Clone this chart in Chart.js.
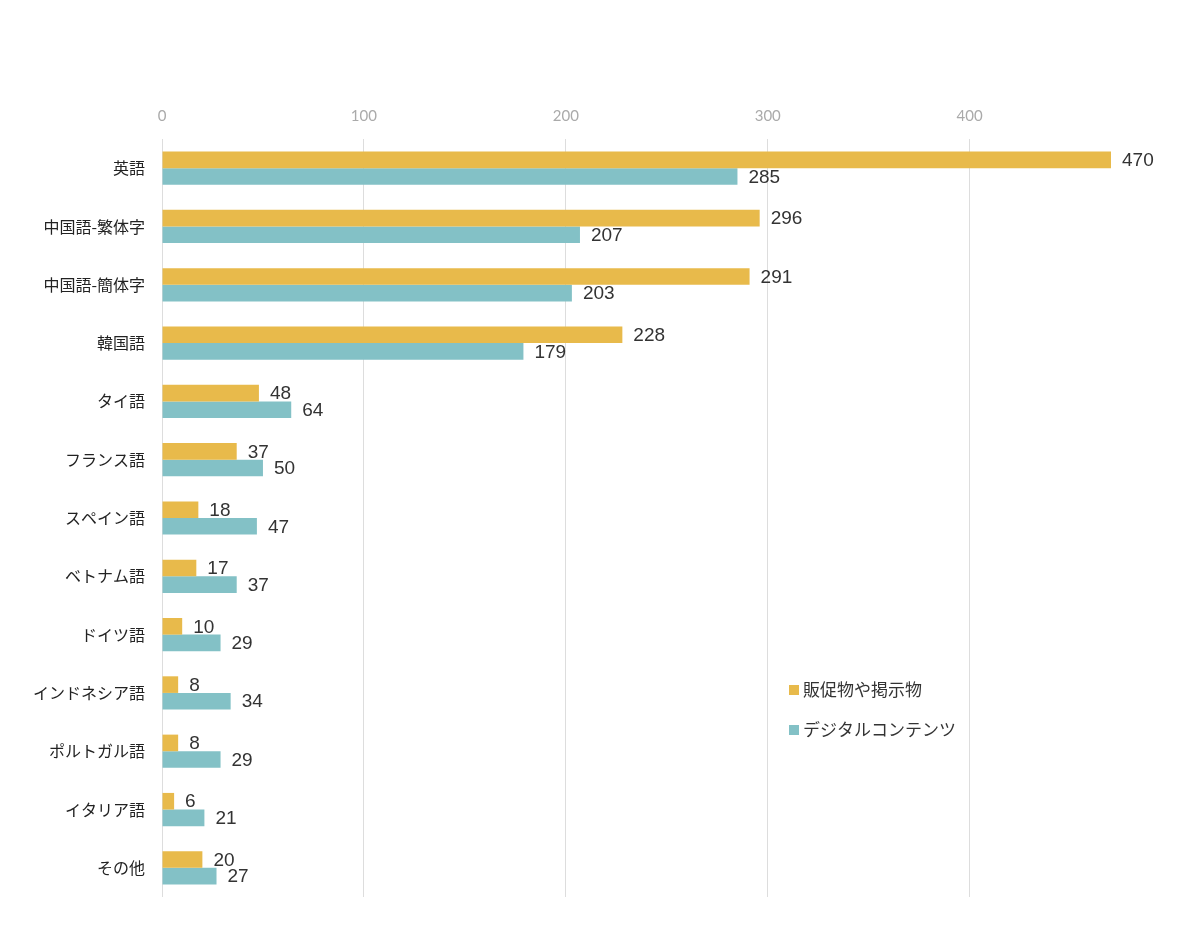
<!DOCTYPE html>
<html lang="ja">
<head>
<meta charset="utf-8">
<title>言語別</title>
<script src="https://cdn.jsdelivr.net/npm/chart.js@4.4.1/dist/chart.umd.min.js"></script>
<style>
    html, body { margin: 0; padding: 0; background: #fff; }
    #wrap { width: 1200px; height: 926px; position: relative; }
</style>
</head>
<body>
<div id="wrap"><canvas id="langChart"></canvas></div>
<script>
// Data
const categories = ['英語', '中国語-繁体字', '中国語-簡体字', '韓国語', 'タイ語', 'フランス語', 'スペイン語',
    'ベトナム語', 'ドイツ語', 'インドネシア語', 'ポルトガル語', 'イタリア語', 'その他'];
const seriesNames = ['販促物や掲示物', 'デジタルコンテンツ'];
const printValues = [470, 296, 291, 228, 48, 37, 18, 17, 10, 8, 8, 6, 20];
const digitalValues = [285, 207, 203, 179, 64, 50, 47, 37, 29, 34, 29, 21, 27];
const xTicks = [0, 100, 200, 300, 400];

const COLORS = ['#E8BA4B', '#83C1C6'];
const JP_FONT = '"Noto Sans CJK JP", "Noto Sans", sans-serif';

// Value labels drawn right of each bar
const valueLabels = {
    id: 'valueLabels',
    afterDatasetsDraw(chart) {
        const ctx = chart.ctx;
        ctx.save();
        ctx.font = '19px "Liberation Sans", Arial, sans-serif';
        ctx.fillStyle = '#333';
        ctx.textAlign = 'left';
        ctx.textBaseline = 'middle';
        chart.data.datasets.forEach((ds, i) => {
            chart.getDatasetMeta(i).data.forEach((bar, j) => {
                ctx.fillText(String(ds.data[j]), bar.x + 11, bar.y + 1);
            });
        });
        ctx.restore();
    }
};

// Legend placed inside the plot area, lower right
const innerLegend = {
    id: 'innerLegend',
    afterDraw(chart) {
        const ctx = chart.ctx;
        ctx.save();
        ctx.font = '17px ' + JP_FONT;
        ctx.textBaseline = 'middle';
        chart.data.datasets.forEach((ds, i) => {
            const y = 690 + i * 40;
            ctx.fillStyle = ds.backgroundColor;
            ctx.fillRect(789, y - 5, 10, 10);
            ctx.fillStyle = '#333';
            ctx.fillText(ds.label, 803, y);
        });
        ctx.restore();
    }
};

new Chart(document.getElementById('langChart'), {
    type: 'bar',
    data: {
        labels: categories,
        datasets: [
            { label: seriesNames[0], data: printValues, backgroundColor: COLORS[0] },
            { label: seriesNames[1], data: digitalValues, backgroundColor: COLORS[1] }
        ]
    },
    options: {
        indexAxis: 'y',
        responsive: true,
        maintainAspectRatio: false,
        animation: false,
        layout: { padding: { left: 0, right: 89, top: 0, bottom: 29 } },
        datasets: { bar: { barPercentage: 1, categoryPercentage: 0.57 } },
        plugins: {
            legend: { display: false },
            tooltip: { enabled: false }
        },
        scales: {
            x: {
                position: 'top',
                min: 0,
                max: 470,
                afterBuildTicks: (scale) => {
                    scale.ticks = xTicks.map(v => ({ value: v }));
                },
                afterFit: (scale) => { scale.height = 139; },
                border: { display: false },
                grid: { color: '#dddddd', lineWidth: 1, drawTicks: false },
                ticks: {
                    padding: 14,
                    color: '#aaaaaa',
                    font: { family: 'Lato, "DejaVu Sans", sans-serif', size: 15 }
                }
            },
            y: {
                afterFit: (scale) => { scale.width = 162; },
                border: { display: false },
                grid: { display: false },
                ticks: {
                    padding: 9,
                    color: '#222',
                    font: { family: JP_FONT, size: 16 }
                }
            }
        }
    },
    plugins: [valueLabels, innerLegend]
});
</script>
</body>
</html>
